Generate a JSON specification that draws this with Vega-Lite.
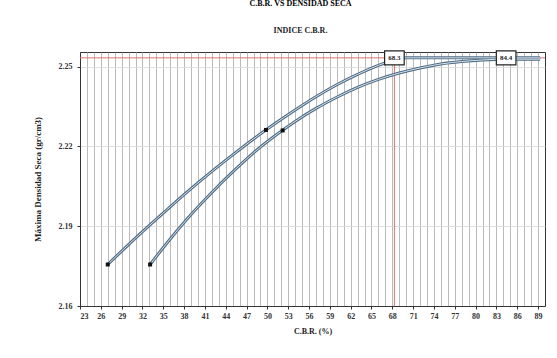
{
  "$schema": "https://vega.github.io/schema/vega-lite/v6.json",
  "width": 465,
  "height": 254,
  "autosize": {"type": "none"},
  "padding": {"left": 80, "top": 52, "right": 12, "bottom": 52},
  "background": "white",
  "title": {
    "text": "C.B.R. VS DENSIDAD SECA",
    "subtitle": "INDICE C.B.R.",
    "font": "Liberation Serif",
    "fontSize": 8,
    "fontWeight": "bold",
    "subtitleFont": "Liberation Serif",
    "subtitleFontSize": 8,
    "subtitleFontWeight": "bold",
    "subtitleColor": "#222",
    "subtitlePadding": 19,
    "offset": 13,
    "dx": -12,
    "anchor": "middle"
  },
  "datasets": {
    "curves": [
      {"cbr": 27, "dens": 2.1756, "serie": "A"},
      {"cbr": 30, "dens": 2.1831, "serie": "A"},
      {"cbr": 33, "dens": 2.1903, "serie": "A"},
      {"cbr": 36, "dens": 2.1973, "serie": "A"},
      {"cbr": 39, "dens": 2.2041, "serie": "A"},
      {"cbr": 42, "dens": 2.2106, "serie": "A"},
      {"cbr": 45, "dens": 2.2168, "serie": "A"},
      {"cbr": 48, "dens": 2.2228, "serie": "A"},
      {"cbr": 51, "dens": 2.2284, "serie": "A"},
      {"cbr": 54, "dens": 2.2337, "serie": "A"},
      {"cbr": 57, "dens": 2.2387, "serie": "A"},
      {"cbr": 60, "dens": 2.2432, "serie": "A"},
      {"cbr": 63, "dens": 2.2471, "serie": "A"},
      {"cbr": 66, "dens": 2.2505, "serie": "A"},
      {"cbr": 68, "dens": 2.2522, "serie": "A"},
      {"cbr": 70, "dens": 2.2533, "serie": "A"},
      {"cbr": 89.3, "dens": 2.2533, "serie": "A"},
      {"cbr": 33.1, "dens": 2.1756, "serie": "B"},
      {"cbr": 36, "dens": 2.1852, "serie": "B"},
      {"cbr": 39, "dens": 2.1944, "serie": "B"},
      {"cbr": 42, "dens": 2.2027, "serie": "B"},
      {"cbr": 45, "dens": 2.2104, "serie": "B"},
      {"cbr": 48, "dens": 2.2176, "serie": "B"},
      {"cbr": 51, "dens": 2.2238, "serie": "B"},
      {"cbr": 54, "dens": 2.2294, "serie": "B"},
      {"cbr": 57, "dens": 2.2343, "serie": "B"},
      {"cbr": 60, "dens": 2.2385, "serie": "B"},
      {"cbr": 63, "dens": 2.2422, "serie": "B"},
      {"cbr": 66, "dens": 2.2452, "serie": "B"},
      {"cbr": 69, "dens": 2.2476, "serie": "B"},
      {"cbr": 72, "dens": 2.2495, "serie": "B"},
      {"cbr": 75, "dens": 2.2510, "serie": "B"},
      {"cbr": 78, "dens": 2.2519, "serie": "B"},
      {"cbr": 81, "dens": 2.2525, "serie": "B"},
      {"cbr": 84.4, "dens": 2.2528, "serie": "B"},
      {"cbr": 89.3, "dens": 2.2528, "serie": "B"}
    ],
    "points": [
      {"cbr": 27, "dens": 2.1756},
      {"cbr": 33.1, "dens": 2.1756},
      {"cbr": 49.8, "dens": 2.2262},
      {"cbr": 52.2, "dens": 2.2260}
    ],
    "refs": [
      {"cbr": 68.3, "label": "68.3", "dens": 2.2533},
      {"cbr": 84.4, "label": "84.4", "dens": 2.2533}
    ]
  },
  "config": {
    "view": {"stroke": "#333", "strokeWidth": 1},
    "font": "Liberation Serif"
  },
  "layer": [
    {
      "data": {"name": "curves"},
      "mark": {"type": "rule", "color": "#ffffff", "strokeWidth": 0},
      "encoding": {
        "x": {
          "field": "cbr", "type": "quantitative",
          "scale": {"domain": [23, 90], "nice": false, "zero": false},
          "axis": {
            "values": [23,24,25,26,27,28,29,30,31,32,33,34,35,36,37,38,39,40,41,42,43,44,45,46,47,48,49,50,51,52,53,54,55,56,57,58,59,60,61,62,63,64,65,66,67,68,69,70,71,72,73,74,75,76,77,78,79,80,81,82,83,84,85,86,87,88,89],
            "tickCount": 200,
            "format": "d",
            "labelExpr": "(datum.value - 23) % 3 === 0 ? datum.label : ''",
            "labelFont": "Liberation Serif", "labelFontSize": 8, "labelFontWeight": "bold", "labelColor": "#333",
            "labelOverlap": false,
            "labelPadding": 3,
            "tickOpacity": {"condition": {"test": "(datum.value - 23) % 3 === 0", "value": 1}, "value": 0},
            "tickColor": "#333", "tickSize": 3, "domainColor": "#333",
            "grid": true, "gridColor": "#a8a8a8", "gridWidth": 0.8, "gridOpacity": 1,
            "title": "C.B.R. (%)",
            "titleFont": "Liberation Serif", "titleFontSize": 8, "titleFontWeight": "bold", "titleColor": "#222",
            "titlePadding": 7
          }
        },
        "y": {
          "field": "dens", "type": "quantitative",
          "scale": {"domain": [2.16, 2.2555], "nice": false, "zero": false},
          "axis": {
            "values": [2.16, 2.19, 2.22, 2.25],
            "format": ".2f",
            "labelFont": "Liberation Serif", "labelFontSize": 8, "labelFontWeight": "bold", "labelColor": "#333",
            "labelPadding": 5,
            "grid": true, "gridColor": "#d8d8d8", "gridWidth": 0.8,
            "tickColor": "#333", "tickSize": 3,
            "domainColor": "#333",
            "title": "Máxima Densidad Seca (gr/cm3)",
            "titleFont": "Liberation Serif", "titleFontSize": 9, "titleFontWeight": "bold", "titleColor": "#222",
            "titlePadding": 16
          }
        }
      }
    },
    {
      "data": {"name": "refs"},
      "transform": [{"filter": "datum.label == '68.3'"}],
      "mark": {"type": "rule", "color": "#e07070", "strokeWidth": 1},
      "encoding": {"x": {"field": "cbr", "type": "quantitative"}}
    },
    {
      "data": {"name": "refs"},
      "transform": [{"filter": "datum.label == '68.3'"}],
      "mark": {"type": "rule", "color": "#e07070", "strokeWidth": 1},
      "encoding": {"y": {"field": "dens", "type": "quantitative"}}
    },
    {
      "data": {"name": "curves"},
      "mark": {"type": "line", "interpolate": "monotone", "color": "#4f6b84", "strokeWidth": 3},
      "encoding": {
        "x": {"field": "cbr", "type": "quantitative"},
        "y": {"field": "dens", "type": "quantitative"},
        "detail": {"field": "serie"}
      }
    },
    {
      "data": {"name": "curves"},
      "mark": {"type": "line", "interpolate": "monotone", "color": "#d6e2ec", "strokeWidth": 1},
      "encoding": {
        "x": {"field": "cbr", "type": "quantitative"},
        "y": {"field": "dens", "type": "quantitative"},
        "detail": {"field": "serie"}
      }
    },
    {
      "data": {"name": "points"},
      "mark": {"type": "point", "shape": "square", "filled": true, "color": "#111", "size": 16, "opacity": 1},
      "encoding": {
        "x": {"field": "cbr", "type": "quantitative"},
        "y": {"field": "dens", "type": "quantitative"}
      }
    },
    {
      "data": {"name": "refs"},
      "mark": {"type": "point", "shape": "M-1.4,-1H1.4V1H-1.4Z", "filled": true, "fill": "white", "stroke": "#222", "strokeWidth": 1.2, "size": 196, "opacity": 1},
      "encoding": {
        "x": {"field": "cbr", "type": "quantitative"},
        "y": {"field": "dens", "type": "quantitative"}
      }
    },
    {
      "data": {"name": "refs"},
      "mark": {"type": "text", "font": "Liberation Serif", "fontSize": 7, "fontWeight": "bold", "color": "#222"},
      "encoding": {
        "x": {"field": "cbr", "type": "quantitative"},
        "y": {"field": "dens", "type": "quantitative"},
        "text": {"field": "label"}
      }
    }
  ]
}
